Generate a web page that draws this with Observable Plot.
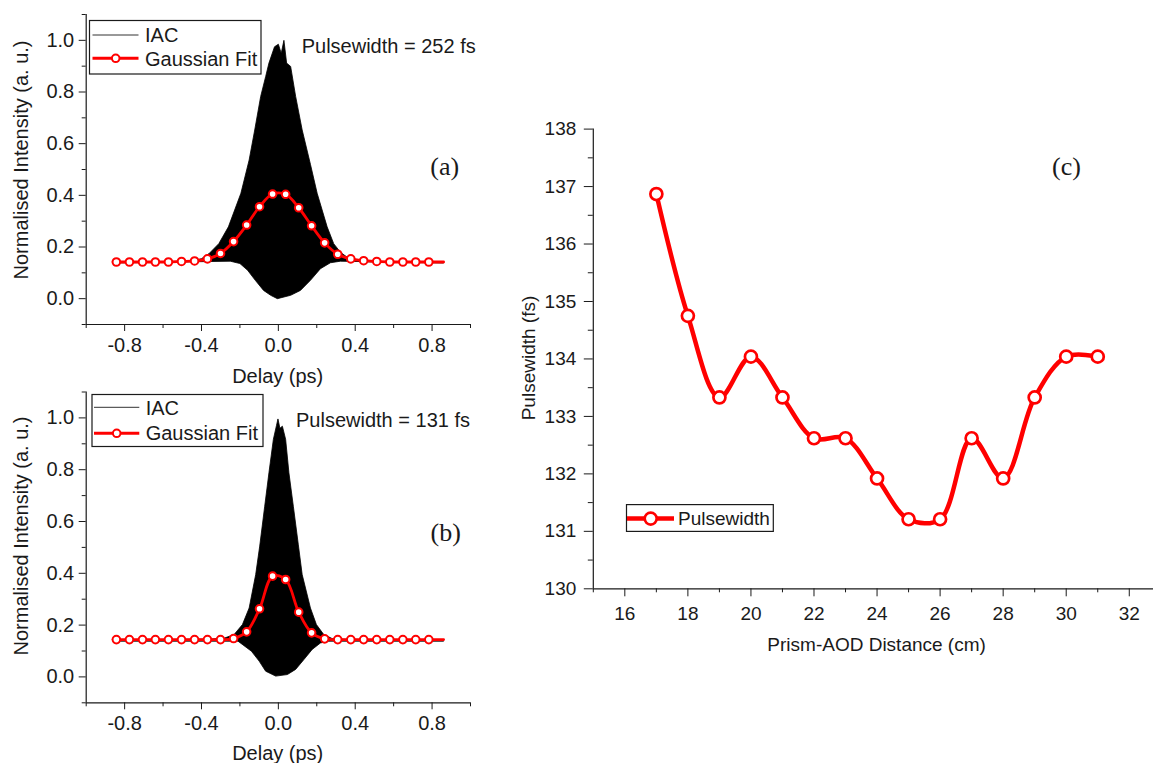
<!DOCTYPE html>
<html><head><meta charset="utf-8">
<script src="https://cdn.jsdelivr.net/npm/d3@7"></script>
<script src="https://cdn.jsdelivr.net/npm/@observablehq/plot@0.6"></script>
<style>
html,body{margin:0;padding:0;background:#fff;overflow:hidden;width:1153px;height:763px}
#wrap{position:relative;width:1153px;height:763px;overflow:hidden;background:#fff}
.panel{position:absolute}
#overlay{position:absolute;left:0;top:0}
</style></head><body><div id="wrap"></div>
<script>
// ---------------- Panels (a) and (b): delay axis ----------------
const delayMajor = [-0.8, -0.4, 0, 0.4, 0.8];
const delayMajorLabels = ["-0.8", "-0.4", "0.0", "0.4", "0.8"];
const delayMinor = [-1.0, -0.6, -0.2, 0.2, 0.6, 1.0];
const intensityMajor = [0, 0.2, 0.4, 0.6, 0.8, 1.0];
const intensityMajorLabels = ["0.0", "0.2", "0.4", "0.6", "0.8", "1.0"];
const intensityMinor = [-0.1, 0.1, 0.3, 0.5, 0.7, 0.9, 1.1];

// Gaussian fit: marker delays (ps) and fit values
const fitDelay = [-0.843, -0.775, -0.707, -0.640, -0.572, -0.504, -0.436, -0.369, -0.301, -0.233, -0.165, -0.098, -0.030,
                  0.038, 0.106, 0.173, 0.241, 0.309, 0.377, 0.444, 0.512, 0.580, 0.648, 0.715, 0.783];
const fitRange = [-0.86, 0.86];
const fitA = [0.142, 0.142, 0.142, 0.142, 0.142, 0.144, 0.146, 0.154, 0.175, 0.221, 0.285, 0.356, 0.405,
              0.404, 0.352, 0.282, 0.216, 0.172, 0.154, 0.147, 0.144, 0.142, 0.142, 0.142, 0.142];
const fitB = [0.144, 0.144, 0.144, 0.144, 0.144, 0.144, 0.144, 0.144, 0.144, 0.148, 0.174, 0.263, 0.389,
              0.376, 0.250, 0.170, 0.147, 0.144, 0.144, 0.144, 0.144, 0.144, 0.144, 0.144, 0.144];

// IAC trace envelopes (upper and lower edge of the dense fringes)
const iacA_upX = [-0.86, -0.45, -0.40, -0.36, -0.31, -0.26, -0.195, -0.152, -0.123, -0.092, -0.066, -0.049, -0.02, 0.0, 0.015, 0.029, 0.043, 0.064, 0.09, 0.124, 0.167, 0.202, 0.254, 0.288, 0.323, 0.357, 0.40, 0.45, 0.86];
const iacA_upY = [0.142, 0.145, 0.155, 0.175, 0.213, 0.278, 0.408, 0.537, 0.653, 0.783, 0.86, 0.912, 0.975, 0.985, 0.95, 1.0, 0.912, 0.899, 0.783, 0.653, 0.52, 0.408, 0.278, 0.213, 0.18, 0.161, 0.15, 0.143, 0.142];
const iacA_loX = [-0.86, -0.25, -0.20, -0.16, -0.12, -0.077, -0.04, -0.005, 0.064, 0.115, 0.167, 0.219, 0.271, 0.323, 0.86];
const iacA_loY = [0.138, 0.145, 0.136, 0.11, 0.071, 0.032, 0.013, 0.0, 0.013, 0.032, 0.071, 0.116, 0.139, 0.145, 0.138];

const iacB_upX = [-0.86, -0.35, -0.28, -0.23, -0.187, -0.152, -0.118, -0.097, -0.071, -0.049, -0.026, -0.01, -0.002, 0.008, 0.021, 0.038, 0.055, 0.078, 0.104, 0.124, 0.167, 0.198, 0.236, 0.28, 0.35, 0.86];
const iacB_upY = [0.142, 0.146, 0.15, 0.164, 0.202, 0.266, 0.395, 0.505, 0.659, 0.788, 0.917, 0.97, 0.996, 0.96, 0.968, 0.917, 0.788, 0.659, 0.51, 0.395, 0.266, 0.202, 0.164, 0.148, 0.145, 0.142];
const iacB_loX = [-0.86, -0.21, -0.14, -0.10, -0.066, -0.014, 0.047, 0.09, 0.133, 0.176, 0.219, 0.26, 0.86];
const iacB_loY = [0.138, 0.138, 0.099, 0.061, 0.022, 0.003, 0.009, 0.029, 0.067, 0.106, 0.131, 0.138, 0.138];

// ---------------- Panel (c) ----------------
const distance = [17, 18, 19, 20, 21, 22, 23, 24, 25, 26, 27, 28, 29, 30, 31];
const pulsewidth = [136.87, 134.75, 133.33, 134.04, 133.33, 132.62, 132.62, 131.92, 131.21, 131.21, 132.62, 131.92, 133.33, 134.04, 134.04];
const distMajor = [16, 18, 20, 22, 24, 26, 28, 30, 32];
const distMinor = [15, 17, 19, 21, 23, 25, 27, 29, 31, 33];
const pwMajor = [130, 131, 132, 133, 134, 135, 136, 137, 138];
const pwMinor = [130.5, 131.5, 132.5, 133.5, 134.5, 135.5, 136.5, 137.5];

// ---------------- Texts ----------------
const delayTitle = "Delay (ps)";
const intensityTitle = "Normalised Intensity (a. u.)";
const distTitle = "Prism-AOD Distance (cm)";
const pwTitle = "Pulsewidth (fs)";
const legendDelay = ["IAC", "Gaussian Fit"];
const legendPw = ["Pulsewidth"];
const pulseNotes = ["Pulsewidth = 252 fs", "Pulsewidth = 131 fs"];
const panelTags = ["(a)", "(b)", "(c)"];

const SANS = '"Liberation Sans", Arial, sans-serif';
const SERIF = '"Liberation Serif", "Times New Roman", serif';
const INK = "#1a1a1a";

function polygon(ux, uy, lx, ly) {
  const pts = ux.map((x, i) => ({x, y: uy[i]}));
  for (let i = lx.length - 1; i >= 0; i--) pts.push({x: lx[i], y: ly[i]});
  return pts;
}

function delayPanel(upX, upY, loX, loY, fitY, height, mTop, mBottom) {
  const iac = polygon(upX, upY, loX, loY);
  const markers = fitDelay.map((x, i) => ({x, y: fitY[i]}));
  const fitLine = [{x: fitRange[0], y: fitY[0]}, ...markers, {x: fitRange[1], y: fitY[fitY.length - 1]}];
  return Plot.plot({
    width: 480, height,
    marginLeft: 85.7, marginRight: 10, marginTop: mTop, marginBottom: mBottom,
    x: {domain: [-1, 1]}, y: {domain: [-0.1, 1.1]},
    style: {fontFamily: SANS, fontSize: "20px", color: INK, background: "transparent", maxWidth: "none", overflow: "visible"},
    marks: [
      Plot.line(iac, {x: "x", y: "y", fill: "black", stroke: "black", strokeWidth: 0.8}),
      Plot.line(fitLine, {x: "x", y: "y", stroke: "#ff0000", strokeWidth: 2.8, curve: "catmull-rom"}),
      Plot.dot(markers, {x: "x", y: "y", r: 3.8, fill: "white", stroke: "#ff0000", strokeWidth: 2}),
      Plot.ruleX([-1], {stroke: INK, strokeWidth: 1.2}),
      Plot.ruleY([-0.1], {stroke: INK, strokeWidth: 1.2}),
      Plot.axisX(delayMajor, {tickSize: 7, tickPadding: 6, stroke: INK, label: null,
        tickFormat: d => delayMajorLabels[delayMajor.indexOf(d)]}),
      Plot.axisX(delayMinor, {tickSize: 4, stroke: INK, label: null, tickFormat: () => ""}),
      Plot.axisY(intensityMajor, {tickSize: 7, tickPadding: 5, stroke: INK, label: null,
        tickFormat: d => intensityMajorLabels[intensityMajor.indexOf(d)]}),
      Plot.axisY(intensityMinor, {tickSize: 4, stroke: INK, label: null, tickFormat: () => ""})
    ]
  });
}

const wrap = document.getElementById("wrap");
function place(node, left, top, w) {
  const d = document.createElement("div");
  d.className = "panel";
  d.style.left = left + "px"; d.style.top = top + "px"; d.style.width = w + "px";
  d.appendChild(node); wrap.appendChild(d);
}

place(delayPanel(iacA_upX, iacA_upY, iacA_loX, iacA_loY, fitA, 390, 14, 66), 0, 0, 480);
place(delayPanel(iacB_upX, iacB_upY, iacB_loX, iacB_loY, fitB, 373, 1.5, 60.7), 0, 390, 480);

const pwData = distance.map((d, i) => ({d, p: pulsewidth[i]}));
const plotC = Plot.plot({
  width: 670, height: 563,
  marginLeft: 92.8, marginRight: 9.7, marginTop: 28.6, marginBottom: 74.7,
  x: {domain: [15, 33]}, y: {domain: [130, 138]},
  style: {fontFamily: SANS, fontSize: "19px", color: INK, background: "transparent", maxWidth: "none", overflow: "visible"},
  marks: [
    Plot.line(pwData, {x: "d", y: "p", stroke: "#ff0000", strokeWidth: 4.5, curve: "catmull-rom"}),
    Plot.dot(pwData, {x: "d", y: "p", r: 6, fill: "white", stroke: "#ff0000", strokeWidth: 2.7}),
    Plot.ruleX([15], {stroke: INK, strokeWidth: 1.2}),
    Plot.ruleY([130], {stroke: INK, strokeWidth: 1.2}),
    Plot.axisX(distMajor, {tickSize: 8, tickPadding: 9.5, stroke: INK, label: null, tickFormat: d => String(d)}),
    Plot.axisX(distMinor, {tickSize: 4, stroke: INK, label: null, tickFormat: () => ""}),
    Plot.axisY(pwMajor, {tickSize: 9, tickPadding: 8, stroke: INK, label: null, tickFormat: d => String(d)}),
    Plot.axisY(pwMinor, {tickSize: 5, stroke: INK, label: null, tickFormat: () => ""})
  ]
});
place(plotC, 500, 100, 670);

// ---------------- Overlay: titles, legends, annotations ----------------
const ov = d3.select(wrap).append("svg").attr("id", "overlay").attr("width", 1153).attr("height", 763);
function txt(x, y, s, {size = 20, anchor = "start", family = SANS, rotate = 0} = {}) {
  const t = ov.append("text").attr("x", x).attr("y", y).attr("fill", INK)
    .attr("font-family", family).attr("font-size", size).attr("text-anchor", anchor).text(s);
  if (rotate) t.attr("transform", `rotate(${rotate},${x},${y})`);
  return t;
}
// axis titles
txt(277.7, 383.3, delayTitle, {anchor: "middle"});
txt(277.7, 760, delayTitle, {anchor: "middle"});
txt(28, 160, intensityTitle, {anchor: "middle", rotate: -90});
txt(28, 536, intensityTitle, {anchor: "middle", rotate: -90});
txt(876.6, 650.7, distTitle, {anchor: "middle", size: 19});
txt(535, 358, pwTitle, {anchor: "middle", size: 19, rotate: -90});
// annotations
txt(301.7, 52.7, pulseNotes[0]);
txt(296, 427.3, pulseNotes[1]);
txt(444.7, 175.4, panelTags[0], {anchor: "middle", family: SERIF, size: 26});
txt(445.7, 541.1, panelTags[1], {anchor: "middle", family: SERIF, size: 26});
txt(1066.5, 174.6, panelTags[2], {anchor: "middle", family: SERIF, size: 26});

// legends (a), (b)
function delayLegend(bx, by, bw, bh, yIac, yFit, lx0, lx1, mx, tx, tb1, tb2) {
  ov.append("rect").attr("x", bx).attr("y", by).attr("width", bw).attr("height", bh)
    .attr("fill", "white").attr("stroke", INK).attr("stroke-width", 1.2);
  ov.append("line").attr("x1", lx0).attr("x2", lx1).attr("y1", yIac).attr("y2", yIac)
    .attr("stroke", "#333").attr("stroke-width", 1);
  ov.append("line").attr("x1", lx0).attr("x2", lx1).attr("y1", yFit).attr("y2", yFit)
    .attr("stroke", "#ff0000").attr("stroke-width", 3);
  ov.append("circle").attr("cx", mx).attr("cy", yFit).attr("r", 3.8)
    .attr("fill", "white").attr("stroke", "#ff0000").attr("stroke-width", 2);
  txt(tx, tb1, legendDelay[0]);
  txt(tx, tb2, legendDelay[1]);
}
delayLegend(89.5, 20.5, 171.5, 53.5, 35, 58.3, 92.5, 138.5, 115.7, 145, 41.9, 65.9);
delayLegend(92, 394.5, 171, 52, 407.3, 433.3, 94, 139.3, 116.7, 145.7, 414.6, 439.7);

// legend (c)
ov.append("rect").attr("x", 626.5).attr("y", 504.6).attr("width", 146.8).attr("height", 26.8)
  .attr("fill", "white").attr("stroke", INK).attr("stroke-width", 1.2);
ov.append("line").attr("x1", 627).attr("x2", 674).attr("y1", 518.6).attr("y2", 518.6)
  .attr("stroke", "#ff0000").attr("stroke-width", 4.5);
ov.append("circle").attr("cx", 650.7).attr("cy", 518.6).attr("r", 6)
  .attr("fill", "white").attr("stroke", "#ff0000").attr("stroke-width", 2.7);
txt(678, 524.8, legendPw[0], {size: 19});
</script>
</body></html>
